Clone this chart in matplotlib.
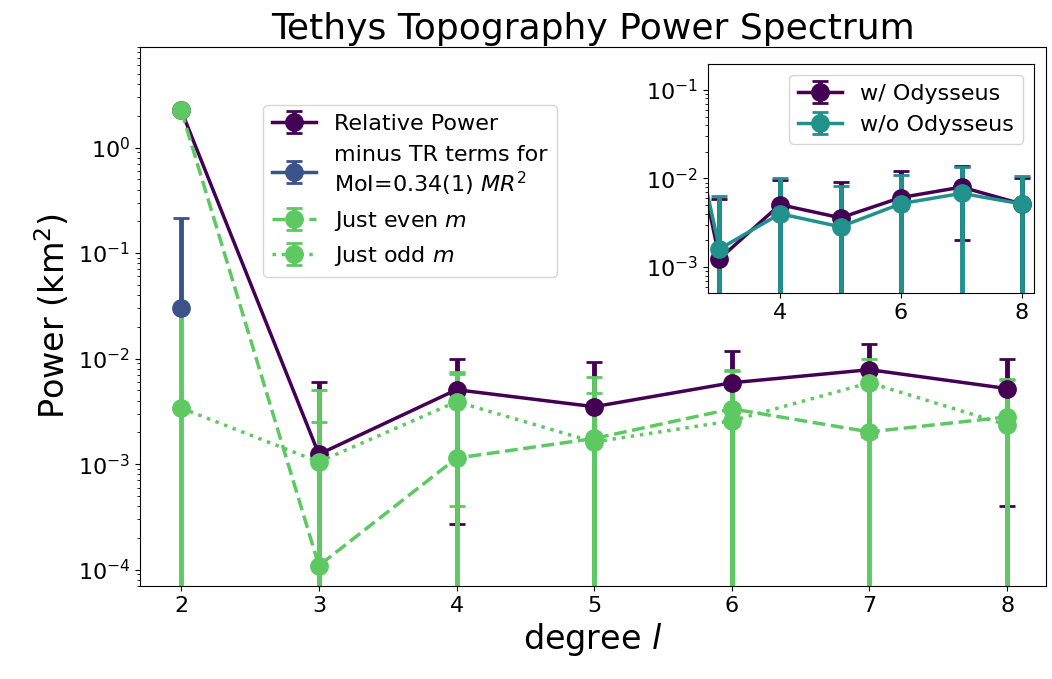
import numpy as np
import matplotlib
matplotlib.use('Agg')
import matplotlib.pyplot as plt

# degrees
deg = np.array([2, 3, 4, 5, 6, 7, 8])

# relative power (with Odysseus) and 1-sigma errors (nan = no bar drawn)
rel_pow = np.array([2.25, 1.24e-3, 5.07e-3, 3.5e-3, 5.9e-3, 7.85e-3, 5.2e-3])
rel_err = np.array([np.nan, 4.7e-3, 4.8e-3, 5.8e-3, 5.9e-3, 6.0e-3, 4.8e-3])

# degree 2 after removing tidal/rotational terms
tr_deg = np.array([2])
tr_pow = np.array([0.030])
tr_err_lo = np.array([0.0])
tr_err_hi = np.array([0.185])

# just even m
even_pow = np.array([2.25, 1.09e-4, 1.14e-3, 1.75e-3, 3.34e-3, 2.02e-3, 2.8e-3])
even_err = np.array([np.nan, 2.4e-3, 6.0e-3, 5.0e-3, 4.4e-3, 5.8e-3, 3.5e-3])

# just odd m
odd_pow = np.array([3.4e-3, 1.05e-3, 3.9e-3, 1.62e-3, 2.57e-3, 5.9e-3, 2.35e-3])
odd_err = np.array([2.7e-2, 4.0e-3, 3.5e-3, 3.1e-3, 5.1e-3, 4.1e-3, 4.0e-3])

# inset: with and without Odysseus
ins_deg = np.array([2, 3, 4, 5, 6, 7, 8])
with_ody = np.array([2.25, 1.24e-3, 5.07e-3, 3.6e-3, 6.1e-3, 8.0e-3, 5.15e-3])
with_err = np.array([np.nan, 4.7e-3, 4.6e-3, 5.6e-3, 5.9e-3, 6.0e-3, 4.9e-3])
wo_ody = np.array([2.2, 1.6e-3, 4.0e-3, 2.85e-3, 5.2e-3, 6.8e-3, 5.15e-3])
wo_err = np.array([np.nan, 4.7e-3, 6.0e-3, 5.4e-3, 5.8e-3, 6.7e-3, 5.4e-3])

c_purple = '#440154'
c_blue = '#3b528b'
c_teal = '#21918c'
c_green = '#5ec962'

fig = plt.figure(figsize=(10.52, 6.79), dpi=100)
ax = fig.add_axes([0.133, 0.137, 0.861, 0.794])

kw = dict(marker='o', markersize=12.5, capsize=5.8, capthick=2, elinewidth=3.5, linewidth=2.5)
ax.errorbar(deg, rel_pow, yerr=rel_err, color=c_purple, label='Relative Power', **kw)
ax.errorbar(tr_deg, tr_pow, yerr=[tr_err_lo, tr_err_hi], color=c_blue, zorder=5,
            label='minus TR terms for\nMoI=0.34(1) $MR^2$', **kw)
ax.errorbar(deg, even_pow, yerr=even_err, color=c_green, linestyle='--',
            label='Just even $m$', **kw)
ax.errorbar(deg, odd_pow, yerr=odd_err, color=c_green, linestyle=':',
            label='Just odd $m$', **kw)

ax.set_yscale('log')
ax.set_xlim(1.7, 8.28)
ax.set_ylim(7e-5, 9)
ax.set_xticks(deg)
ax.tick_params(labelsize=16)
ax.set_xlabel('degree $l$', fontsize=24)
ax.set_ylabel('Power (km$^2$)', fontsize=24)
ax.set_title('Tethys Topography Power Spectrum', fontsize=26)
ax.legend(loc='upper left', bbox_to_anchor=(0.136, 0.892), borderaxespad=0, fontsize=16)

# inset
axi = fig.add_axes([0.673, 0.5685, 0.31, 0.3375])
axi.errorbar(ins_deg, with_ody, yerr=with_err, color=c_purple, label='w/ Odysseus', **kw)
axi.errorbar(ins_deg, wo_ody, yerr=wo_err, color=c_teal, label='w/o Odysseus', **kw)
axi.set_yscale('log')
axi.set_xlim(2.81, 8.2)
axi.set_ylim(5.1e-4, 0.197)
axi.set_xticks([4, 6, 8])
axi.tick_params(labelsize=16)
axi.legend(loc='upper right', fontsize=16)

plt.savefig('out.png', dpi=100)
